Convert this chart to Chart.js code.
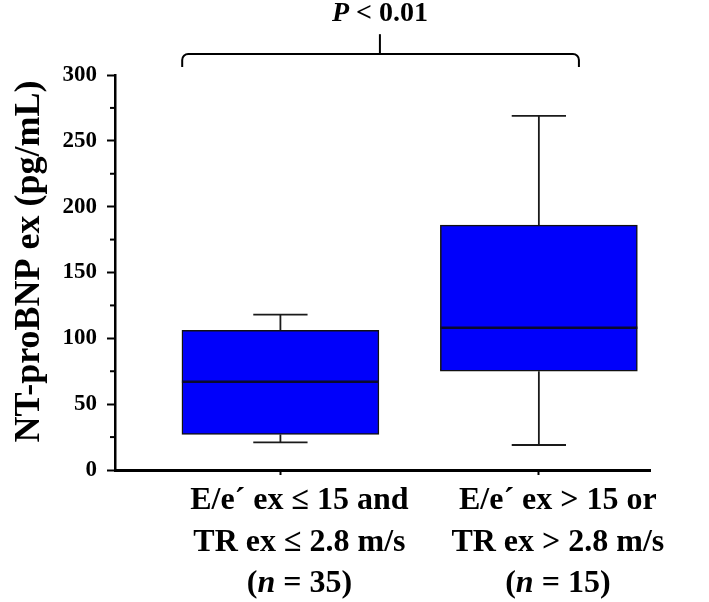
<!DOCTYPE html>
<html><head><meta charset="utf-8">
<script src="https://cdn.jsdelivr.net/npm/chart.js@4"></script>
<style>html,body{margin:0;padding:0;background:#fff}</style>
</head><body>
<canvas id="c" width="709" height="602"></canvas>
<script>
// ---- data ----
const groups = [1, 2];
const categoryLines = [
  ["E/e\u00B4 ex \u2264 15 and", "TR ex \u2264 2.8 m/s"],
  ["E/e\u00B4 ex > 15 or", "TR ex > 2.8 m/s"]
];
const groupN = [35, 15];
const whiskerLow = [21, 19];
const q1 = [27, 75];
const median = [67, 108];
const q3 = [106, 186];
const whiskerHigh = [118, 269];
const yMajorTicks = [0, 50, 100, 150, 200, 250, 300];
const yMinorTicks = [25, 75, 125, 175, 225, 275];
const yAxisTitle = "NT-proBNP ex (pg/mL)";
const pText = ["P", " < 0.01"];
// bracket in data units: [left x, center x, right x], [end y, bar y, top y]
const bracketX = [0.62, 1.385, 2.155];
const bracketY = [306, 316, 331];

const FONT = '"Liberation Serif", "Times New Roman", serif';
const capHalf = 0.105;

const boxParts = {
  id: 'boxParts',
  beforeDatasetsDraw(chart) {
    const {ctx, scales: {x, y}} = chart;
    ctx.save();
    ctx.strokeStyle = '#1a1a1a';
    ctx.lineWidth = 1.8;
    groups.forEach((g, i) => {
      const cx = x.getPixelForValue(g);
      const ch = x.getPixelForValue(g + capHalf) - cx;
      const seg = (x1, y1, x2, y2) => { ctx.beginPath(); ctx.moveTo(x1, y1); ctx.lineTo(x2, y2); ctx.stroke(); };
      seg(cx, y.getPixelForValue(q3[i]), cx, y.getPixelForValue(whiskerHigh[i]));
      seg(cx, y.getPixelForValue(q1[i]), cx, y.getPixelForValue(whiskerLow[i]));
      seg(cx - ch, y.getPixelForValue(whiskerHigh[i]), cx + ch, y.getPixelForValue(whiskerHigh[i]));
      seg(cx - ch, y.getPixelForValue(whiskerLow[i]), cx + ch, y.getPixelForValue(whiskerLow[i]));
    });
    ctx.restore();
  },
  afterDatasetsDraw(chart) {
    const {ctx, scales: {x, y}} = chart;
    const meta = chart.getDatasetMeta(0);
    ctx.save();
    ctx.strokeStyle = '#0a0a30';
    ctx.lineWidth = 2.5;
    groups.forEach((g, i) => {
      const bar = meta.data[i];
      const py = y.getPixelForValue(median[i]);
      ctx.beginPath();
      ctx.moveTo(bar.x - bar.width / 2, py);
      ctx.lineTo(bar.x + bar.width / 2, py);
      ctx.stroke();
    });
    ctx.restore();
  },
  afterDraw(chart) {
    const {ctx, scales: {x, y}} = chart;
    ctx.save();
    // minor y ticks
    ctx.strokeStyle = '#000';
    ctx.lineWidth = 2;
    yMinorTicks.forEach(v => {
      const py = y.getPixelForValue(v);
      ctx.beginPath();
      ctx.moveTo(y.right - 5, py);
      ctx.lineTo(y.right, py);
      ctx.stroke();
    });
    // y axis title
    ctx.fillStyle = '#000';
    ctx.save();
    ctx.translate(30, (y.top + y.bottom) / 2 - 11);
    ctx.rotate(-Math.PI / 2);
    ctx.font = 'bold 36px ' + FONT;
    ctx.textAlign = 'center';
    ctx.textBaseline = 'middle';
    ctx.fillText(yAxisTitle, 0, 0);
    ctx.restore();
    // category labels
    ctx.textBaseline = 'middle';
    const lh = 41.5;
    const y0 = x.top + 31;
    const shift = 19;
    const fs = '32px ';
    groups.forEach((g, i) => {
      const cx = x.getPixelForValue(g) + shift;
      ctx.font = 'bold ' + fs + FONT;
      ctx.textAlign = 'center';
      categoryLines[i].forEach((t, k) => ctx.fillText(t, cx, y0 + k * lh));
      // third line with italic n
      const parts = [['(', 'bold '], ['n', 'italic bold '], [' = ' + groupN[i] + ')', 'bold ']];
      let total = 0;
      parts.forEach(p => { ctx.font = p[1] + fs + FONT; total += ctx.measureText(p[0]).width; });
      let px = cx - total / 2;
      ctx.textAlign = 'left';
      parts.forEach(p => { ctx.font = p[1] + fs + FONT; ctx.fillText(p[0], px, y0 + 2 * lh); px += ctx.measureText(p[0]).width; });
    });
    // bracket
    const L = x.getPixelForValue(bracketX[0]), C = x.getPixelForValue(bracketX[1]), R = x.getPixelForValue(bracketX[2]);
    const yE = y.getPixelForValue(bracketY[0]), yH = y.getPixelForValue(bracketY[1]), yT = y.getPixelForValue(bracketY[2]);
    const r = 6;
    ctx.strokeStyle = '#000';
    ctx.lineWidth = 2;
    ctx.beginPath();
    ctx.moveTo(L, yE);
    ctx.lineTo(L, yH + r);
    ctx.arcTo(L, yH, L + r, yH, r);
    ctx.lineTo(R - r, yH);
    ctx.arcTo(R, yH, R, yH + r, r);
    ctx.lineTo(R, yE);
    ctx.stroke();
    ctx.beginPath();
    ctx.moveTo(C, yH);
    ctx.lineTo(C, yT);
    ctx.stroke();
    // P text
    const pParts = [[pText[0], 'italic bold '], [pText[1], 'bold ']];
    let tw = 0;
    pParts.forEach(p => { ctx.font = p[1] + '28px ' + FONT; tw += ctx.measureText(p[0]).width; });
    let tx = C - tw / 2;
    ctx.textAlign = 'left';
    ctx.textBaseline = 'alphabetic';
    pParts.forEach(p => { ctx.font = p[1] + '28px ' + FONT; ctx.fillText(p[0], tx, yT - 13); tx += ctx.measureText(p[0]).width; });
    ctx.restore();
  }
};

new Chart(document.getElementById('c'), {
  type: 'bar',
  data: {
    datasets: [{
      data: groups.map((g, i) => ({x: g, y: [q1[i], q3[i]]})),
      backgroundColor: '#0000fb',
      borderColor: '#111',
      borderWidth: 1.5,
      borderSkipped: false,
      barThickness: 197
    }]
  },
  options: {
    responsive: false,
    animation: false,
    devicePixelRatio: 1,
    layout: {padding: {top: 75, right: 59, left: 0, bottom: 0}},
    plugins: {legend: {display: false}, tooltip: {enabled: false}},
    scales: {
      x: {
        type: 'linear',
        offset: false,
        min: 0.36, max: 2.43,
        afterBuildTicks: s => { s.ticks = groups.map(v => ({value: v})); },
        afterFit: s => { s.height = 132; },
        ticks: {display: false},
        grid: {offset: false, drawOnChartArea: false, tickLength: 5, tickWidth: 2, tickColor: '#000'},
        border: {width: 3, color: '#000'}
      },
      y: {
        min: 0, max: 300,
        afterBuildTicks: s => { s.ticks = yMajorTicks.map(v => ({value: v})); },
        afterFit: s => { s.width = 115; },
        ticks: {color: '#000', padding: 10, font: {family: FONT, size: 23, weight: 'bold'}},
        grid: {drawOnChartArea: false, tickLength: 8, tickWidth: 2, tickColor: '#000'},
        border: {width: 2.5, color: '#000'},
        title: {display: false}
      }
    }
  },
  plugins: [boxParts]
});
</script>
</body></html>
